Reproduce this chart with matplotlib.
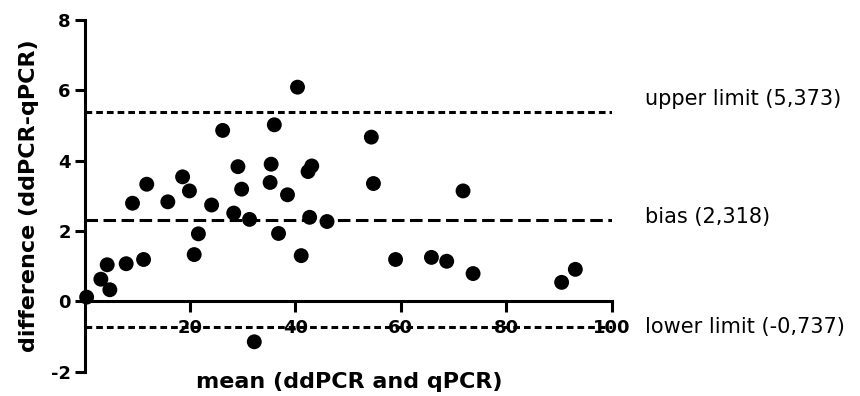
import matplotlib
matplotlib.use("Agg")
import matplotlib.pyplot as plt

# ---- data ----
mean_vals = [0.4, 3.1, 4.8, 4.3, 7.9, 11.2, 9.1, 11.8, 15.8, 18.6, 19.9, 24.1,
             21.6, 20.8, 29.1, 29.8, 28.3, 31.3, 40.4, 26.2, 36.0, 35.4, 43.1,
             42.4, 35.2, 38.5, 42.7, 46.0, 36.8, 54.4, 54.8, 71.8, 41.1, 59.0,
             65.8, 68.7, 73.7, 93.1, 90.5, 32.2]
diff_vals = [0.12, 0.63, 0.33, 1.04, 1.07, 1.19, 2.79, 3.33, 2.83, 3.54, 3.14,
             2.74, 1.92, 1.33, 3.83, 3.19, 2.51, 2.33, 6.09, 4.86, 5.02, 3.90,
             3.85, 3.69, 3.38, 3.03, 2.39, 2.27, 1.93, 4.67, 3.35, 3.14, 1.30,
             1.19, 1.25, 1.14, 0.79, 0.91, 0.54, -1.15]

bias = 2.318
upper_limit = 5.373
lower_limit = -0.737
line_labels = ["upper limit (5,373)", "bias (2,318)", "lower limit (-0,737)"]
x_ticks = [20, 40, 60, 80, 100]
y_ticks = [-2, 0, 2, 4, 6, 8]

# ---- figure ----
fig = plt.figure(figsize=(8.6, 3.96), dpi=100)
ax = fig.add_axes([0.0983, 0.0614, 0.6130, 0.8881])
ax.set_xlim(0, 100)
ax.set_ylim(-2, 8)

lw = 2.2
for s in ("top", "right"):
    ax.spines[s].set_visible(False)
ax.spines["bottom"].set_position(("data", 0))
ax.spines["left"].set_linewidth(lw)
ax.spines["bottom"].set_linewidth(lw)

# limit lines
ax.plot([0, 100], [upper_limit, upper_limit], color="black", lw=lw,
        linestyle=(0, (2.2, 1.3)), zorder=3)
ax.plot([0, 100], [lower_limit, lower_limit], color="black", lw=lw,
        linestyle=(0, (2.2, 1.3)), zorder=3)
ax.plot([0, 100], [bias, bias], color="black", lw=lw,
        linestyle=(0, (4.1, 1.8)), zorder=3)

ax.scatter(mean_vals, diff_vals, s=115, color="black", edgecolors="none",
           zorder=5, clip_on=False)

ax.set_xticks(x_ticks)
ax.set_xticklabels([str(t) for t in x_ticks], fontsize=13, fontweight="bold")
ax.set_yticks(y_ticks)
ax.set_yticklabels([str(t) for t in y_ticks], fontsize=13, fontweight="bold")
ax.tick_params(axis="x", length=8, width=lw, pad=5, direction="out")
ax.tick_params(axis="y", length=7, width=lw, pad=3, direction="out")

ax.set_xlabel("mean (ddPCR and qPCR)", fontsize=16, fontweight="bold")
ax.xaxis.set_label_coords(0.503, 0.0)
ax.xaxis.label.set_verticalalignment("top")
ax.set_ylabel("difference (ddPCR-qPCR)", fontsize=16, fontweight="bold")
ax.yaxis.set_label_coords(-0.087, 0.501)

# annotations to the right of the lines
label_x = 106.3
label_y = [5.76, 2.41, -0.72]
for txt, yy in zip(line_labels, label_y):
    ax.text(label_x, yy, txt, fontsize=15, ha="left", va="center",
            clip_on=False)

fig.savefig("out.png", dpi=100)
